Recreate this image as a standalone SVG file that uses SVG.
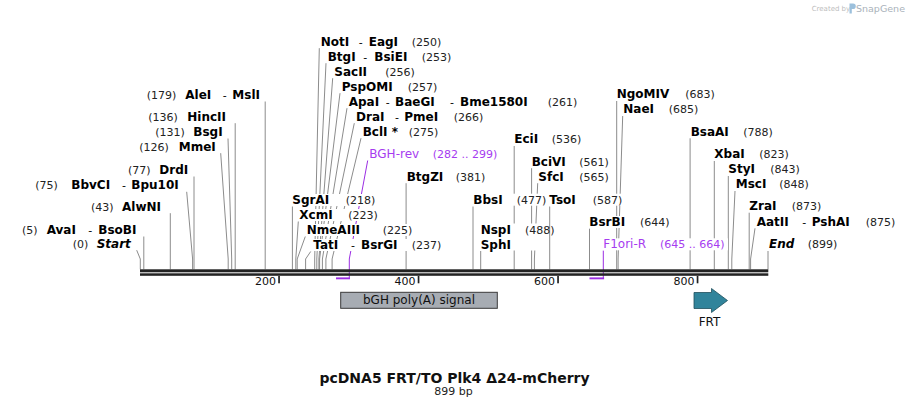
<svg xmlns="http://www.w3.org/2000/svg" width="909" height="408" viewBox="0 0 909 408">
<style>
text{font-family:"DejaVu Sans",Verdana,sans-serif}
.n{font-size:12px;font-weight:bold;fill:#000}
.i{font-style:italic}
.c{font-size:11px;fill:#222}
.d{font-size:11px;fill:#000}
.p{font-size:12px;fill:#a63cf0}
.pc{font-size:11px;fill:#a63cf0}
.bg{fill:#fff}
.cut{stroke:#8c8c8c;stroke-width:1;fill:none}
.pl{stroke:#9b2de3;stroke-width:1;fill:none}
.pb{fill:#9b2de3}
.bb{fill:#222}
.tk{fill:#222}
.t{font-size:11px;fill:#111}
</style>
<rect width="909" height="408" fill="#fff"/>

<g id="connectors">
<path class="cut" d="M136.7,250.2 L140.3,259 V269.3"/>
<path class="cut" d="M143.8,236.5 V269.3"/>
<path class="cut" d="M170.3,213.2 V269.3"/>
<path class="cut" d="M186.7,191.8 L192.6,259 V269.3"/>
<path class="cut" d="M194,176.5 V269.3"/>
<path class="cut" d="M220.7,153.2 L228.2,259 V269.3"/>
<path class="cut" d="M228,138.5 L231.7,259 V269.3"/>
<path class="cut" d="M235.2,123.2 V269.3"/>
<path class="cut" d="M265.2,101.5 V269.3"/>
<path class="cut" d="M292.4,206.5 V269.3"/>
<path class="cut" d="M298.3,221.5 L295.8,259 V269.3"/>
<path class="cut" d="M305.3,236.5 L297.2,259 V269.3"/>
<path class="cut" d="M310.7,251.5 L305.6,259 V269.3"/>
<path class="cut" d="M319.3,48.2 L314.7,259 V269.3"/>
<path class="cut" d="M326,63.2 L316.8,259 V269.3"/>
<path class="cut" d="M332.7,78.2 L318.9,259 V269.3"/>
<path class="cut" d="M340,93.2 L319.6,259 V269.3"/>
<path class="cut" d="M347,108.2 L322.4,259 V269.3"/>
<path class="cut" d="M354.3,123.2 L325.9,259 V269.3"/>
<path class="cut" d="M361,138.2 L332.1,259 V269.3"/>
<path class="cut" d="M406.1,183.2 V269.3"/>
<path class="cut" d="M473,206.5 V269.3"/>
<path class="cut" d="M480.7,251 V269.3"/>
<path class="cut" d="M514.2,146 V269.3"/>
<path class="cut" d="M531.6,168.2 V269.3"/>
<path class="cut" d="M537.7,183.2 L534.4,259 V269.3"/>
<path class="cut" d="M549.7,206.5 V269.3"/>
<path class="cut" d="M589.5,228.7 V269.3"/>
<path class="cut" d="M616.7,101 V269.3"/>
<path class="cut" d="M622.7,116 L618.1,259 V269.3"/>
<path class="cut" d="M690.1,138.3 V269.3"/>
<path class="cut" d="M714.3,161 V269.3"/>
<path class="cut" d="M728.3,176 V269.3"/>
<path class="cut" d="M735,191 L731.8,259 V269.3"/>
<path class="cut" d="M749.2,212.7 V269.3"/>
<path class="cut" d="M755,228.3 L750.6,259 V269.3"/>
<path class="cut" d="M768,251 V269.3"/>
<path class="pl" d="M367.7,160.5 L349.3,259 V279"/>
<path class="pl" d="M603.3,250.5 V279"/>
</g>

<g id="backbone">
<rect class="bb" x="140" y="269.3" width="628.3" height="3"/>
<rect class="bb" x="140" y="273.3" width="628.3" height="2.5"/>
</g>

<g id="primer-bars">
<rect class="pb" x="336" y="277.4" width="14" height="1.9"/>
<rect class="pb" x="589.5" y="277.4" width="14.6" height="1.9"/>
</g>

<g id="ruler">
<rect class="tk" x="278.2" y="276" width="1.7" height="7.3"/>
<rect class="tk" x="417.7" y="276" width="1.7" height="7.3"/>
<rect class="tk" x="557.2" y="276" width="1.7" height="7.3"/>
<rect class="tk" x="696.7" y="276" width="1.7" height="7.3"/>
<text class="t" x="276" y="285" text-anchor="end">200</text>
<text class="t" x="415.5" y="285" text-anchor="end">400</text>
<text class="t" x="555" y="285" text-anchor="end">600</text>
<text class="t" x="694.5" y="285" text-anchor="end">800</text>
</g>

<g id="feature-bgh">
<rect x="340.7" y="292.3" width="156.6" height="16" fill="#a7acb3" stroke="#3a3a3a" stroke-width="1"/>
<text x="419" y="304.3" font-size="12" fill="#111" text-anchor="middle">bGH poly(A) signal</text>
</g>

<g id="feature-frt">
<polygon points="694,292.5 711.5,292.5 711.5,288.5 727.5,300.5 711.5,312.5 711.5,308.5 694,308.5" fill="#31849b" stroke="#1f4f5c" stroke-width="0.8"/>
<text x="709.5" y="325.5" font-size="12" fill="#111" text-anchor="middle">FRT</text>
</g>

<g id="site-start"><rect class="bg" x="71.7" y="237.7" width="59.3" height="12"/><text y="247.7"><tspan class="c" x="72.7">(0)</tspan><tspan class="n i" x="96.7">Start</tspan></text></g>
<g id="site-AvaI"><rect class="bg" x="21" y="224" width="117" height="12"/><text y="234"><tspan class="c" x="22">(5)</tspan><tspan class="n" x="46.7">AvaI</tspan><tspan class="d" x="88.3">-</tspan><tspan class="n" x="98.3">BsoBI</tspan></text></g>
<g id="site-AlwNI"><rect class="bg" x="90" y="200.7" width="74.5" height="12"/><text y="210.7"><tspan class="c" x="91">(43)</tspan><tspan class="n" x="122">AlwNI</tspan></text></g>
<g id="site-BbvCI"><rect class="bg" x="34.3" y="179.3" width="146.7" height="12"/><text y="189.3"><tspan class="c" x="35.3">(75)</tspan><tspan class="n" x="71.3">BbvCI</tspan><tspan class="d" x="122">-</tspan><tspan class="n" x="131.3">Bpu10I</tspan></text></g>
<g id="site-DrdI"><rect class="bg" x="127" y="164" width="63.5" height="12"/><text y="174"><tspan class="c" x="128">(77)</tspan><tspan class="n" x="159.3">DrdI</tspan></text></g>
<g id="site-MmeI"><rect class="bg" x="138.3" y="140.7" width="78.7" height="12"/><text y="150.7"><tspan class="c" x="139.3">(126)</tspan><tspan class="n" x="178.7">MmeI</tspan></text></g>
<g id="site-BsgI"><rect class="bg" x="154.3" y="126" width="70" height="12"/><text y="136"><tspan class="c" x="155.3">(131)</tspan><tspan class="n" x="193.3">BsgI</tspan></text></g>
<g id="site-HincII"><rect class="bg" x="147.3" y="110.7" width="83" height="12"/><text y="120.7"><tspan class="c" x="148.3">(136)</tspan><tspan class="n" x="187.3">HincII</tspan></text></g>
<g id="site-AleI"><rect class="bg" x="145.7" y="89" width="116" height="12"/><text y="99"><tspan class="c" x="146.7">(179)</tspan><tspan class="n" x="185.3">AleI</tspan><tspan class="d" x="222.7">-</tspan><tspan class="n" x="232.3">MslI</tspan></text></g>

<g id="site-SgrAI"><rect class="bg" x="291.5" y="194" width="84.5" height="12"/><text y="204"><tspan class="n" x="292.3">SgrAI</tspan><tspan class="c" x="345.7">(218)</tspan></text></g>
<g id="site-XcmI"><rect class="bg" x="298.5" y="209" width="80.5" height="12"/><text y="219"><tspan class="n" x="299.3">XcmI</tspan><tspan class="c" x="348.3">(223)</tspan></text></g>
<g id="site-NmeAIII"><rect class="bg" x="305.5" y="224" width="108" height="12"/><text y="234"><tspan class="n" x="306.7">NmeAIII</tspan><tspan class="c" x="382.7">(225)</tspan></text></g>
<g id="site-TatI"><rect class="bg" x="312.5" y="239" width="130" height="12"/><text y="249"><tspan class="n" x="313.3">TatI</tspan><tspan class="d" x="351">-</tspan><tspan class="n" x="361">BsrGI</tspan><tspan class="c" x="411.7">(237)</tspan></text></g>
<g id="site-NotI"><rect class="bg" x="320" y="35.7" width="122.5" height="12"/><text y="45.7"><tspan class="n" x="320.7">NotI</tspan><tspan class="d" x="358.7">-</tspan><tspan class="n" x="368.7">EagI</tspan><tspan class="c" x="411.7">(250)</tspan></text></g>
<g id="site-BtgI"><rect class="bg" x="327" y="50.7" width="125.5" height="12"/><text y="60.7"><tspan class="n" x="327.7">BtgI</tspan><tspan class="d" x="363.3">-</tspan><tspan class="n" x="374.3">BsiEI</tspan><tspan class="c" x="421.7">(253)</tspan></text></g>
<g id="site-SacII"><rect class="bg" x="333.5" y="65.7" width="82.5" height="12"/><text y="75.7"><tspan class="n" x="334.3">SacII</tspan><tspan class="c" x="385.3">(256)</tspan></text></g>
<g id="site-PspOMI"><rect class="bg" x="341" y="80.7" width="97.5" height="12"/><text y="90.7"><tspan class="n" x="341.7">PspOMI</tspan><tspan class="c" x="407.7">(257)</tspan></text></g>
<g id="site-ApaI"><rect class="bg" x="348" y="95.7" width="230.5" height="12"/><text y="105.7"><tspan class="n" x="348.7">ApaI</tspan><tspan class="d" x="385.7">-</tspan><tspan class="n" x="395">BaeGI</tspan><tspan class="d" x="450">-</tspan><tspan class="n" x="460">Bme1580I</tspan><tspan class="c" x="547.7">(261)</tspan></text></g>
<g id="site-DraI"><rect class="bg" x="355" y="110.7" width="129.5" height="12"/><text y="120.7"><tspan class="n" x="356">DraI</tspan><tspan class="d" x="395">-</tspan><tspan class="n" x="404.3">PmeI</tspan><tspan class="c" x="453.7">(266)</tspan></text></g>
<g id="site-BclI"><rect class="bg" x="362" y="125.7" width="77.5" height="12"/><text y="135.7"><tspan class="n" x="362.7">BclI</tspan><tspan class="n" x="391.7">*</tspan><tspan class="c" x="408.7">(275)</tspan></text></g>
<g id="primer-BGH-rev"><rect class="bg" x="368.5" y="148.3" width="132" height="12"/><text y="158.3"><tspan class="p" x="369.3">BGH-rev</tspan><tspan class="pc" x="432.7">(282 .. 299)</tspan></text></g>
<g id="site-BtgZI"><rect class="bg" x="406" y="170.7" width="80.5" height="12"/><text y="180.7"><tspan class="n" x="406.7">BtgZI</tspan><tspan class="c" x="455.7">(381)</tspan></text></g>
<g id="site-BbsI"><rect class="bg" x="472.5" y="193.7" width="75" height="12"/><text y="203.7"><tspan class="n" x="473.3">BbsI</tspan><tspan class="c" x="516.7">(477)</tspan></text></g>
<g id="site-NspI-SphI"><rect class="bg" x="480" y="223.5" width="68" height="27"/><text y="233.5"><tspan class="n" x="480.7">NspI</tspan><tspan class="c" x="525">(488)</tspan></text><text class="n" x="480.7" y="248.5">SphI</text></g>
<g id="site-EciI"><rect class="bg" x="513.5" y="133.3" width="69" height="12"/><text y="143.3"><tspan class="n" x="514.3">EciI</tspan><tspan class="c" x="551.7">(536)</tspan></text></g>
<g id="site-BciVI"><rect class="bg" x="531" y="155.7" width="79" height="12"/><text y="165.7"><tspan class="n" x="531.7">BciVI</tspan><tspan class="c" x="579.3">(561)</tspan></text></g>
<g id="site-SfcI"><rect class="bg" x="537.5" y="170.7" width="72.5" height="12"/><text y="180.7"><tspan class="n" x="538.3">SfcI</tspan><tspan class="c" x="579.3">(565)</tspan></text></g>
<g id="site-TsoI"><rect class="bg" x="548.5" y="193.7" width="75" height="12"/><text y="203.7"><tspan class="n" x="549.3">TsoI</tspan><tspan class="c" x="592.7">(587)</tspan></text></g>
<g id="site-BsrBI"><rect class="bg" x="588.5" y="216" width="82" height="12"/><text y="226"><tspan class="n" x="589.3">BsrBI</tspan><tspan class="c" x="640">(644)</tspan></text></g>
<g id="primer-F1ori-R"><rect class="bg" x="602.5" y="238.3" width="125.5" height="12"/><text y="248.3"><tspan class="p" x="603.3">F1ori-R</tspan><tspan class="pc" x="660">(645 .. 664)</tspan></text></g>
<g id="site-NgoMIV"><rect class="bg" x="616" y="88.3" width="100" height="12"/><text y="98.3"><tspan class="n" x="616.7">NgoMIV</tspan><tspan class="c" x="685.3">(683)</tspan></text></g>
<g id="site-NaeI"><rect class="bg" x="622.5" y="103.3" width="77" height="12"/><text y="113.3"><tspan class="n" x="623.3">NaeI</tspan><tspan class="c" x="668.7">(685)</tspan></text></g>
<g id="site-BsaAI"><rect class="bg" x="690" y="125.7" width="84" height="12"/><text y="135.7"><tspan class="n" x="690.7">BsaAI</tspan><tspan class="c" x="743.3">(788)</tspan></text></g>
<g id="site-XbaI"><rect class="bg" x="713.5" y="148.3" width="76.5" height="12"/><text y="158.3"><tspan class="n" x="714.3">XbaI</tspan><tspan class="c" x="759.3">(823)</tspan></text></g>
<g id="site-StyI"><rect class="bg" x="727.5" y="163.3" width="73.5" height="12"/><text y="173.3"><tspan class="n" x="728.3">StyI</tspan><tspan class="c" x="770.3">(843)</tspan></text></g>
<g id="site-MscI"><rect class="bg" x="735" y="178.3" width="75" height="12"/><text y="188.3"><tspan class="n" x="735.7">MscI</tspan><tspan class="c" x="779.3">(848)</tspan></text></g>
<g id="site-ZraI"><rect class="bg" x="748.5" y="200" width="74" height="12"/><text y="210"><tspan class="n" x="749.3">ZraI</tspan><tspan class="c" x="791.7">(873)</tspan></text></g>
<g id="site-AatII"><rect class="bg" x="756" y="215.7" width="140.5" height="12"/><text y="225.7"><tspan class="n" x="756.7">AatII</tspan><tspan class="d" x="802.3">-</tspan><tspan class="n" x="811.7">PshAI</tspan><tspan class="c" x="865.7">(875)</tspan></text></g>
<g id="site-end"><rect class="bg" x="768.5" y="238.3" width="70" height="12"/><text y="248.3"><tspan class="n i" x="769">End</tspan><tspan class="c" x="807.7">(899)</tspan></text></g>

<g id="title">
<text x="454.5" y="383" font-size="14" font-weight="bold" fill="#111" text-anchor="middle">pcDNA5 FRT/TO Plk4 Δ24-mCherry</text>
<text x="453.5" y="395" font-size="11" fill="#222" text-anchor="middle">899 bp</text>
</g>

<g id="credit">
<text x="811.7" y="11" font-size="7" fill="#bdbdbd">Created by</text>
<path d="M849.5,3.5 h3.5 a2.8,2.8 0 0 1 0,5.6 h-1.2 v4.4 h-2.3 z" fill="#9cc0dc"/>
<text x="856" y="11.5" font-size="9.5" fill="#aab2ba">SnapGene</text>
</g>
</svg>
